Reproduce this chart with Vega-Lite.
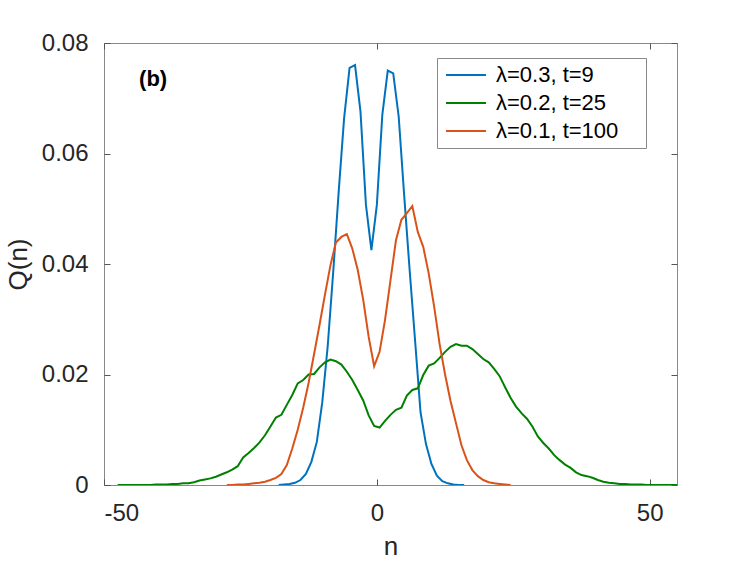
{
  "$schema": "https://vega.github.io/schema/vega-lite/v6.json",
  "width": 573,
  "height": 442,
  "autosize": {"type": "none"},
  "padding": {"left": 104, "top": 43, "right": 70, "bottom": 76},
  "config": {
    "font": "Liberation Sans",
    "view": {"stroke": "#888888", "strokeWidth": 1},
    "axis": {
      "domainColor": "#888888",
      "tickColor": "#555555",
      "labelColor": "#262626",
      "titleColor": "#262626",
      "labelFontSize": 24,
      "titleFontSize": 26,
      "titleFontWeight": "normal",
      "grid": false
    }
  },
  "datasets": {
    "curves": [
      {"s": "λ=0.3, t=9", "n": -18, "Q": 0.0000},
      {"s": "λ=0.3, t=9", "n": -17, "Q": 0.0001},
      {"s": "λ=0.3, t=9", "n": -16, "Q": 0.0002},
      {"s": "λ=0.3, t=9", "n": -15, "Q": 0.0004},
      {"s": "λ=0.3, t=9", "n": -14, "Q": 0.0009},
      {"s": "λ=0.3, t=9", "n": -13, "Q": 0.0020},
      {"s": "λ=0.3, t=9", "n": -12, "Q": 0.0042},
      {"s": "λ=0.3, t=9", "n": -11, "Q": 0.0078},
      {"s": "λ=0.3, t=9", "n": -10, "Q": 0.0150},
      {"s": "λ=0.3, t=9", "n": -9, "Q": 0.0252},
      {"s": "λ=0.3, t=9", "n": -8, "Q": 0.0385},
      {"s": "λ=0.3, t=9", "n": -7, "Q": 0.0530},
      {"s": "λ=0.3, t=9", "n": -6, "Q": 0.0664},
      {"s": "λ=0.3, t=9", "n": -5, "Q": 0.0755},
      {"s": "λ=0.3, t=9", "n": -4, "Q": 0.0760},
      {"s": "λ=0.3, t=9", "n": -3, "Q": 0.0676},
      {"s": "λ=0.3, t=9", "n": -2, "Q": 0.0507},
      {"s": "λ=0.3, t=9", "n": -1, "Q": 0.0425},
      {"s": "λ=0.3, t=9", "n": 0, "Q": 0.0507},
      {"s": "λ=0.3, t=9", "n": 1, "Q": 0.0670},
      {"s": "λ=0.3, t=9", "n": 2, "Q": 0.0750},
      {"s": "λ=0.3, t=9", "n": 3, "Q": 0.0745},
      {"s": "λ=0.3, t=9", "n": 4, "Q": 0.0667},
      {"s": "λ=0.3, t=9", "n": 5, "Q": 0.0525},
      {"s": "λ=0.3, t=9", "n": 6, "Q": 0.0390},
      {"s": "λ=0.3, t=9", "n": 7, "Q": 0.0262},
      {"s": "λ=0.3, t=9", "n": 8, "Q": 0.0132},
      {"s": "λ=0.3, t=9", "n": 9, "Q": 0.0074},
      {"s": "λ=0.3, t=9", "n": 10, "Q": 0.0038},
      {"s": "λ=0.3, t=9", "n": 11, "Q": 0.0017},
      {"s": "λ=0.3, t=9", "n": 12, "Q": 0.0007},
      {"s": "λ=0.3, t=9", "n": 13, "Q": 0.0003},
      {"s": "λ=0.3, t=9", "n": 14, "Q": 0.0001},
      {"s": "λ=0.3, t=9", "n": 15, "Q": 0.0000},
      {"s": "λ=0.3, t=9", "n": 16, "Q": 0.0000},

      {"s": "λ=0.2, t=25", "n": -47.5, "Q": 0.0000},
      {"s": "λ=0.2, t=25", "n": -46.5, "Q": 0.0000},
      {"s": "λ=0.2, t=25", "n": -45.5, "Q": 0.0000},
      {"s": "λ=0.2, t=25", "n": -44.5, "Q": 0.0000},
      {"s": "λ=0.2, t=25", "n": -43.5, "Q": 0.0000},
      {"s": "λ=0.2, t=25", "n": -42.5, "Q": 0.0000},
      {"s": "λ=0.2, t=25", "n": -41.5, "Q": 0.0000},
      {"s": "λ=0.2, t=25", "n": -40.5, "Q": 0.0001},
      {"s": "λ=0.2, t=25", "n": -39.5, "Q": 0.0001},
      {"s": "λ=0.2, t=25", "n": -38.5, "Q": 0.0001},
      {"s": "λ=0.2, t=25", "n": -37.5, "Q": 0.0002},
      {"s": "λ=0.2, t=25", "n": -36.5, "Q": 0.0002},
      {"s": "λ=0.2, t=25", "n": -35.5, "Q": 0.0003},
      {"s": "λ=0.2, t=25", "n": -34.5, "Q": 0.0003},
      {"s": "λ=0.2, t=25", "n": -33.5, "Q": 0.0005},
      {"s": "λ=0.2, t=25", "n": -32.5, "Q": 0.0008},
      {"s": "λ=0.2, t=25", "n": -31.5, "Q": 0.0010},
      {"s": "λ=0.2, t=25", "n": -30.5, "Q": 0.0012},
      {"s": "λ=0.2, t=25", "n": -29.5, "Q": 0.0015},
      {"s": "λ=0.2, t=25", "n": -28.5, "Q": 0.0019},
      {"s": "λ=0.2, t=25", "n": -27.5, "Q": 0.0023},
      {"s": "λ=0.2, t=25", "n": -26.5, "Q": 0.0028},
      {"s": "λ=0.2, t=25", "n": -25.5, "Q": 0.0034},
      {"s": "λ=0.2, t=25", "n": -24.5, "Q": 0.0050},
      {"s": "λ=0.2, t=25", "n": -23.5, "Q": 0.0058},
      {"s": "λ=0.2, t=25", "n": -22.5, "Q": 0.0067},
      {"s": "λ=0.2, t=25", "n": -21.5, "Q": 0.0077},
      {"s": "λ=0.2, t=25", "n": -20.5, "Q": 0.0090},
      {"s": "λ=0.2, t=25", "n": -19.5, "Q": 0.0106},
      {"s": "λ=0.2, t=25", "n": -18.5, "Q": 0.0122},
      {"s": "λ=0.2, t=25", "n": -17.5, "Q": 0.0127},
      {"s": "λ=0.2, t=25", "n": -16.5, "Q": 0.0145},
      {"s": "λ=0.2, t=25", "n": -15.5, "Q": 0.0163},
      {"s": "λ=0.2, t=25", "n": -14.5, "Q": 0.0184},
      {"s": "λ=0.2, t=25", "n": -13.5, "Q": 0.0190},
      {"s": "λ=0.2, t=25", "n": -12.5, "Q": 0.0200},
      {"s": "λ=0.2, t=25", "n": -11.5, "Q": 0.0201},
      {"s": "λ=0.2, t=25", "n": -10.5, "Q": 0.0213},
      {"s": "λ=0.2, t=25", "n": -9.5, "Q": 0.0222},
      {"s": "λ=0.2, t=25", "n": -8.5, "Q": 0.0227},
      {"s": "λ=0.2, t=25", "n": -7.5, "Q": 0.0224},
      {"s": "λ=0.2, t=25", "n": -6.5, "Q": 0.0218},
      {"s": "λ=0.2, t=25", "n": -5.5, "Q": 0.0205},
      {"s": "λ=0.2, t=25", "n": -4.5, "Q": 0.0190},
      {"s": "λ=0.2, t=25", "n": -3.5, "Q": 0.0172},
      {"s": "λ=0.2, t=25", "n": -2.5, "Q": 0.0153},
      {"s": "λ=0.2, t=25", "n": -1.5, "Q": 0.0126},
      {"s": "λ=0.2, t=25", "n": -0.5, "Q": 0.0107},
      {"s": "λ=0.2, t=25", "n": 0.5, "Q": 0.0104},
      {"s": "λ=0.2, t=25", "n": 1.5, "Q": 0.0116},
      {"s": "λ=0.2, t=25", "n": 2.5, "Q": 0.0127},
      {"s": "λ=0.2, t=25", "n": 3.5, "Q": 0.0136},
      {"s": "λ=0.2, t=25", "n": 4.5, "Q": 0.0140},
      {"s": "λ=0.2, t=25", "n": 5.5, "Q": 0.0162},
      {"s": "λ=0.2, t=25", "n": 6.5, "Q": 0.0172},
      {"s": "λ=0.2, t=25", "n": 7.5, "Q": 0.0175},
      {"s": "λ=0.2, t=25", "n": 8.5, "Q": 0.0199},
      {"s": "λ=0.2, t=25", "n": 9.5, "Q": 0.0216},
      {"s": "λ=0.2, t=25", "n": 10.5, "Q": 0.0220},
      {"s": "λ=0.2, t=25", "n": 11.5, "Q": 0.0230},
      {"s": "λ=0.2, t=25", "n": 12.5, "Q": 0.0241},
      {"s": "λ=0.2, t=25", "n": 13.5, "Q": 0.0250},
      {"s": "λ=0.2, t=25", "n": 14.5, "Q": 0.0255},
      {"s": "λ=0.2, t=25", "n": 15.5, "Q": 0.0252},
      {"s": "λ=0.2, t=25", "n": 16.5, "Q": 0.0252},
      {"s": "λ=0.2, t=25", "n": 17.5, "Q": 0.0246},
      {"s": "λ=0.2, t=25", "n": 18.5, "Q": 0.0237},
      {"s": "λ=0.2, t=25", "n": 19.5, "Q": 0.0228},
      {"s": "λ=0.2, t=25", "n": 20.5, "Q": 0.0222},
      {"s": "λ=0.2, t=25", "n": 21.5, "Q": 0.0210},
      {"s": "λ=0.2, t=25", "n": 22.5, "Q": 0.0197},
      {"s": "λ=0.2, t=25", "n": 23.5, "Q": 0.0177},
      {"s": "λ=0.2, t=25", "n": 24.5, "Q": 0.0158},
      {"s": "λ=0.2, t=25", "n": 25.5, "Q": 0.0142},
      {"s": "λ=0.2, t=25", "n": 26.5, "Q": 0.0130},
      {"s": "λ=0.2, t=25", "n": 27.5, "Q": 0.0120},
      {"s": "λ=0.2, t=25", "n": 28.5, "Q": 0.0106},
      {"s": "λ=0.2, t=25", "n": 29.5, "Q": 0.0088},
      {"s": "λ=0.2, t=25", "n": 30.5, "Q": 0.0076},
      {"s": "λ=0.2, t=25", "n": 31.5, "Q": 0.0066},
      {"s": "λ=0.2, t=25", "n": 32.5, "Q": 0.0054},
      {"s": "λ=0.2, t=25", "n": 33.5, "Q": 0.0045},
      {"s": "λ=0.2, t=25", "n": 34.5, "Q": 0.0037},
      {"s": "λ=0.2, t=25", "n": 35.5, "Q": 0.0031},
      {"s": "λ=0.2, t=25", "n": 36.5, "Q": 0.0023},
      {"s": "λ=0.2, t=25", "n": 37.5, "Q": 0.0018},
      {"s": "λ=0.2, t=25", "n": 38.5, "Q": 0.0016},
      {"s": "λ=0.2, t=25", "n": 39.5, "Q": 0.0013},
      {"s": "λ=0.2, t=25", "n": 40.5, "Q": 0.0009},
      {"s": "λ=0.2, t=25", "n": 41.5, "Q": 0.0006},
      {"s": "λ=0.2, t=25", "n": 42.5, "Q": 0.0004},
      {"s": "λ=0.2, t=25", "n": 43.5, "Q": 0.0003},
      {"s": "λ=0.2, t=25", "n": 44.5, "Q": 0.0002},
      {"s": "λ=0.2, t=25", "n": 45.5, "Q": 0.0002},
      {"s": "λ=0.2, t=25", "n": 46.5, "Q": 0.0001},
      {"s": "λ=0.2, t=25", "n": 47.5, "Q": 0.0001},
      {"s": "λ=0.2, t=25", "n": 48.5, "Q": 0.0001},
      {"s": "λ=0.2, t=25", "n": 49.5, "Q": 0.0000},
      {"s": "λ=0.2, t=25", "n": 50.5, "Q": 0.0000},
      {"s": "λ=0.2, t=25", "n": 51.5, "Q": 0.0000},
      {"s": "λ=0.2, t=25", "n": 52.5, "Q": 0.0000},
      {"s": "λ=0.2, t=25", "n": 53.5, "Q": 0.0000},
      {"s": "λ=0.2, t=25", "n": 54.5, "Q": 0.0000},
      {"s": "λ=0.2, t=25", "n": 55, "Q": 0.0000},

      {"s": "λ=0.1, t=100", "n": -27.5, "Q": 0.0000},
      {"s": "λ=0.1, t=100", "n": -26.5, "Q": 0.0000},
      {"s": "λ=0.1, t=100", "n": -25.5, "Q": 0.0001},
      {"s": "λ=0.1, t=100", "n": -24.5, "Q": 0.0001},
      {"s": "λ=0.1, t=100", "n": -23.5, "Q": 0.0002},
      {"s": "λ=0.1, t=100", "n": -22.5, "Q": 0.0003},
      {"s": "λ=0.1, t=100", "n": -21.5, "Q": 0.0004},
      {"s": "λ=0.1, t=100", "n": -20.5, "Q": 0.0006},
      {"s": "λ=0.1, t=100", "n": -19.5, "Q": 0.0009},
      {"s": "λ=0.1, t=100", "n": -18.5, "Q": 0.0013},
      {"s": "λ=0.1, t=100", "n": -17.5, "Q": 0.0020},
      {"s": "λ=0.1, t=100", "n": -16.5, "Q": 0.0036},
      {"s": "λ=0.1, t=100", "n": -15.5, "Q": 0.0066},
      {"s": "λ=0.1, t=100", "n": -14.5, "Q": 0.0100},
      {"s": "λ=0.1, t=100", "n": -13.5, "Q": 0.0140},
      {"s": "λ=0.1, t=100", "n": -12.5, "Q": 0.0185},
      {"s": "λ=0.1, t=100", "n": -11.5, "Q": 0.0237},
      {"s": "λ=0.1, t=100", "n": -10.5, "Q": 0.0290},
      {"s": "λ=0.1, t=100", "n": -9.5, "Q": 0.0345},
      {"s": "λ=0.1, t=100", "n": -8.5, "Q": 0.0398},
      {"s": "λ=0.1, t=100", "n": -7.5, "Q": 0.0439},
      {"s": "λ=0.1, t=100", "n": -6.5, "Q": 0.0449},
      {"s": "λ=0.1, t=100", "n": -5.5, "Q": 0.0454},
      {"s": "λ=0.1, t=100", "n": -4.5, "Q": 0.0428},
      {"s": "λ=0.1, t=100", "n": -3.5, "Q": 0.0389},
      {"s": "λ=0.1, t=100", "n": -2.5, "Q": 0.0335},
      {"s": "λ=0.1, t=100", "n": -1.5, "Q": 0.0268},
      {"s": "λ=0.1, t=100", "n": -0.5, "Q": 0.0215},
      {"s": "λ=0.1, t=100", "n": 0.5, "Q": 0.0241},
      {"s": "λ=0.1, t=100", "n": 1.5, "Q": 0.0299},
      {"s": "λ=0.1, t=100", "n": 2.5, "Q": 0.0371},
      {"s": "λ=0.1, t=100", "n": 3.5, "Q": 0.0443},
      {"s": "λ=0.1, t=100", "n": 4.5, "Q": 0.0480},
      {"s": "λ=0.1, t=100", "n": 5.5, "Q": 0.0492},
      {"s": "λ=0.1, t=100", "n": 6.5, "Q": 0.0505},
      {"s": "λ=0.1, t=100", "n": 7.5, "Q": 0.0458},
      {"s": "λ=0.1, t=100", "n": 8.5, "Q": 0.0431},
      {"s": "λ=0.1, t=100", "n": 9.5, "Q": 0.0383},
      {"s": "λ=0.1, t=100", "n": 10.5, "Q": 0.0323},
      {"s": "λ=0.1, t=100", "n": 11.5, "Q": 0.0255},
      {"s": "λ=0.1, t=100", "n": 12.5, "Q": 0.0200},
      {"s": "λ=0.1, t=100", "n": 13.5, "Q": 0.0152},
      {"s": "λ=0.1, t=100", "n": 14.5, "Q": 0.0112},
      {"s": "λ=0.1, t=100", "n": 15.5, "Q": 0.0072},
      {"s": "λ=0.1, t=100", "n": 16.5, "Q": 0.0045},
      {"s": "λ=0.1, t=100", "n": 17.5, "Q": 0.0027},
      {"s": "λ=0.1, t=100", "n": 18.5, "Q": 0.0016},
      {"s": "λ=0.1, t=100", "n": 19.5, "Q": 0.0009},
      {"s": "λ=0.1, t=100", "n": 20.5, "Q": 0.0005},
      {"s": "λ=0.1, t=100", "n": 21.5, "Q": 0.0003},
      {"s": "λ=0.1, t=100", "n": 22.5, "Q": 0.0002},
      {"s": "λ=0.1, t=100", "n": 23.5, "Q": 0.0001},
      {"s": "λ=0.1, t=100", "n": 24.5, "Q": 0.0000}
    ],
    "label": [{"text": "(b)", "n": -41, "Q": 0.0735}]
  },
  "resolve": {"axis": {"x": "independent", "y": "independent"}},
  "layer": [
    {
      "data": {"name": "curves"},
      "mark": {"type": "line", "strokeWidth": 2, "clip": true},
      "encoding": {
        "x": {
          "field": "n", "type": "quantitative",
          "scale": {"domain": [-50, 55], "nice": false, "zero": false},
          "axis": {
            "orient": "bottom", "title": "n", "values": [-50, 0, 50],
            "labelExpr": "'' + datum.value",
            "tickSize": -6, "labelPadding": 22, "titlePadding": 8,
            "domain": false
          }
        },
        "y": {
          "field": "Q", "type": "quantitative",
          "scale": {"domain": [0, 0.08], "nice": false},
          "axis": {
            "orient": "left", "title": "Q(n)", "values": [0, 0.02, 0.04, 0.06, 0.08],
            "labelExpr": "datum.value == 0 ? '0' : format(datum.value, '.2f')",
            "tickSize": -6, "labelPadding": 22, "titlePadding": 10,
            "domain": false
          }
        },
        "color": {
          "field": "s", "type": "nominal",
          "scale": {
            "domain": ["λ=0.3, t=9", "λ=0.2, t=25", "λ=0.1, t=100"],
            "range": ["#0072BD", "#008000", "#D95319"]
          },
          "legend": {
            "title": "\u2003", "titleOrient": "right", "titleFontSize": 10, "titlePadding": 22,
            "orient": "none", "legendX": 333, "legendY": 15,
            "symbolType": "M-1.6,0H6.4", "symbolSize": 100, "symbolStrokeWidth": 2,
            "labelFontSize": 22, "labelColor": "#000000", "labelOffset": 31,
            "rowPadding": 6, "padding": 6,
            "strokeColor": "#888888", "fillColor": "#ffffff"
          }
        }
      }
    },
    {
      "data": {"name": "label"},
      "mark": {"type": "text", "fontWeight": "bold", "fontSize": 22, "color": "#000000", "align": "center", "baseline": "middle"},
      "encoding": {
        "x": {"field": "n", "type": "quantitative", "axis": {"orient": "top", "values": [-50, 0, 50], "labels": false, "title": null, "tickSize": -6, "domain": false}},
        "y": {"field": "Q", "type": "quantitative", "axis": {"orient": "right", "values": [0, 0.02, 0.04, 0.06, 0.08], "labels": false, "title": null, "tickSize": -6, "domain": false}},
        "text": {"field": "text"}
      }
    }
  ]
}
